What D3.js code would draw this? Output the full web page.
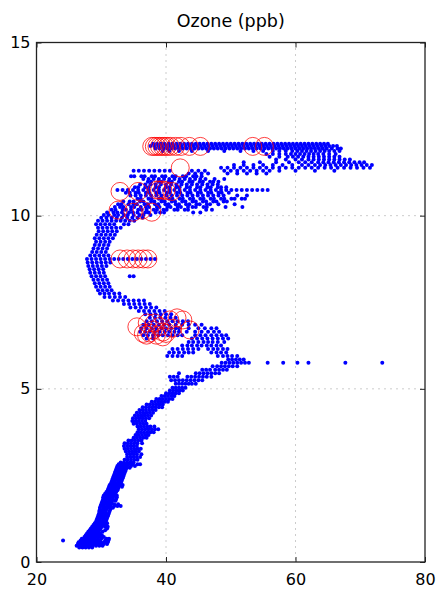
<!DOCTYPE html>
<html lang="en">
<head>
    <meta charset="UTF-8">
    <title>Ozone (ppb)</title>
    <style>
        body {
            margin: 0;
            background-color: #fff;
        }

        #chart {
            display: block;
        }

        .axis path {
            display: none;
        }

        .axis line {
            stroke: #222;
        }

        .axis text {
            fill: #000;
            font-family: "DejaVu Sans", sans-serif;
            font-size: 16px;
        }

        .grid line {
            stroke: #999;
            stroke-dasharray: 1, 5;
        }
    </style>
</head>
<body>
    <svg id="chart" width="438" height="590"></svg>

    <script src="https://cdnjs.cloudflare.com/ajax/libs/d3/7.8.5/d3.min.js"></script>
    <script>
        const chartTitle = 'Ozone (ppb)';
        const xTicks = [20, 40, 60, 80];
        const yTicks = [0, 5, 10, 15];

        // each row: [altitude, ozone, ozone, ...]
        const profileLower = [
            [0.42, 26.6, 27.1, 27.6, 28.1, 28.6],
            [0.47, 26.2, 26.7, 27.2, 27.7, 28.2, 28.7, 29.2, 29.7, 30.2],
            [0.52, 26.4, 26.9, 27.4, 27.9, 28.4, 28.9, 29.4, 29.9, 30.4, 30.9],
            [0.57, 26.5, 27.0, 27.5, 28.0, 28.5, 29.0, 29.5, 30.0, 30.5, 31.0],
            [0.62, 24.1, 26.8, 27.3, 27.8, 28.3, 28.8, 29.3, 29.8, 30.6, 31.1],
            [0.67, 27.0, 27.5, 28.0, 28.5, 29.0, 29.5, 30.0, 30.8, 31.2],
            [0.72, 27.4, 27.9, 28.4, 28.9, 29.4, 29.9, 30.4],
            [0.77, 27.6, 28.1, 28.6, 29.1, 29.6, 30.1],
            [0.82, 27.8, 28.3, 28.8, 29.3, 29.8],
            [0.87, 28.0, 28.5, 29.0, 29.5, 30.2],
            [0.92, 28.2, 28.7, 29.2, 29.7, 30.6],
            [0.97, 28.4, 28.9, 29.4, 29.9, 30.9],
            [1.02, 28.6, 29.1, 29.6, 30.1, 30.6, 31.0],
            [1.07, 28.8, 29.3, 29.8, 30.3, 30.8],
            [1.12, 29.0, 29.5, 30.0, 30.5, 30.9],
            [1.17, 29.2, 29.7, 30.2, 30.7],
            [1.22, 29.3, 29.8, 30.3, 30.8],
            [1.27, 29.4, 29.9, 30.4, 30.9],
            [1.32, 29.5, 30.0, 30.5, 31.0],
            [1.37, 29.6, 30.1, 30.6, 31.1],
            [1.42, 29.7, 30.2, 30.7, 31.2],
            [1.47, 29.7, 30.2, 30.7, 31.3],
            [1.52, 29.8, 30.3, 30.8, 31.4],
            [1.57, 29.8, 30.3, 30.8, 31.3, 31.8],
            [1.62, 29.9, 30.4, 30.9, 31.4, 32.0, 32.5, 33.0],
            [1.67, 30.0, 30.5, 31.0, 31.5, 32.0, 32.6],
            [1.72, 30.1, 30.6, 31.1, 31.6],
            [1.77, 30.2, 30.7, 31.2, 31.7, 32.2],
            [1.82, 30.3, 30.8, 31.3, 31.8, 32.3],
            [1.87, 30.3, 30.8, 31.3, 31.8, 32.4],
            [1.92, 30.4, 30.9, 31.4, 31.9, 32.4],
            [1.97, 30.6, 31.1, 31.6, 32.1],
            [2.02, 30.8, 31.3, 31.8, 32.3],
            [2.07, 31.0, 31.5, 32.0, 32.5],
            [2.12, 31.1, 31.6, 32.1, 32.6],
            [2.17, 31.2, 31.7, 32.2, 32.7, 33.2],
            [2.22, 31.3, 31.8, 32.3, 32.8, 33.3],
            [2.27, 31.5, 32.0, 32.5, 33.0],
            [2.32, 31.6, 32.1, 32.6, 33.1],
            [2.37, 31.7, 32.2, 32.7, 33.2],
            [2.42, 31.8, 32.3, 32.8, 33.3],
            [2.47, 31.9, 32.4, 32.9, 33.4],
            [2.52, 32.0, 32.5, 33.0, 33.5],
            [2.57, 32.1, 32.6, 33.1, 33.6],
            [2.62, 32.2, 32.7, 33.2, 33.7],
            [2.67, 32.3, 32.8, 33.3, 33.8],
            [2.72, 32.4, 32.9, 33.4, 33.9, 34.4],
            [2.77, 32.5, 33.0, 33.5, 34.0, 34.6, 35.2],
            [2.82, 32.7, 33.2, 33.7, 34.2, 34.8, 35.6, 36.0],
            [2.87, 33.0, 33.5, 34.0, 34.5, 35.0]
        ];

        const profileMiddle = [
            [2.95, 33.6, 34.1, 34.6, 35.1, 35.6],
            [3.03, 34.0, 34.5, 35.0, 35.5, 36.0],
            [3.11, 34.0, 34.5, 35.0, 35.5, 36.2],
            [3.19, 33.8, 34.3, 34.8, 35.3, 35.8],
            [3.27, 33.6, 34.1, 34.6, 35.1, 35.6, 36.1],
            [3.35, 33.5, 34.0, 34.5, 35.0, 35.5],
            [3.43, 33.6, 34.1, 34.6, 35.1, 35.6, 36.3],
            [3.51, 34.2, 34.7, 35.2, 35.7, 36.2],
            [3.59, 35.0, 35.5, 36.0, 36.5, 37.0],
            [3.67, 35.3, 35.8, 36.3, 36.8, 37.3],
            [3.75, 35.6, 36.1, 36.6, 37.1, 37.6, 38.1],
            [3.83, 35.8, 36.3, 36.8, 37.3, 37.8, 38.3, 38.8],
            [3.91, 35.6, 36.1, 36.6, 37.1, 37.6, 38.2],
            [3.99, 35.0, 35.5, 36.0, 36.5, 37.0],
            [4.07, 34.8, 35.3, 35.8, 36.3, 36.8],
            [4.15, 34.9, 35.4, 35.9, 36.4, 36.9, 37.4],
            [4.23, 35.2, 35.7, 36.2, 36.7, 37.2, 37.7],
            [4.31, 35.5, 36.0, 36.5, 37.0, 37.5, 38.0],
            [4.39, 35.9, 36.4, 36.9, 37.4, 37.9, 38.4],
            [4.47, 36.4, 36.9, 37.4, 37.9, 38.4, 38.9, 39.4],
            [4.55, 37.0, 37.5, 38.0, 38.5, 39.0, 39.5],
            [4.63, 37.8, 38.3, 38.8, 39.3, 39.8, 40.3],
            [4.71, 38.5, 39.0, 39.5, 40.0, 40.5, 41.0],
            [4.79, 39.3, 39.8, 40.3, 40.8, 41.3],
            [4.87, 40.0, 40.5, 41.0, 41.5, 42.0],
            [4.95, 40.6, 41.1, 41.6, 42.1, 42.6],
            [5.03, 41.0, 41.5, 42.0, 42.5, 43.0]
        ];

        const profileBend = [
            [5.15, 41.5, 42.0, 42.5, 43.0, 43.5, 44.0, 44.6],
            [5.25, 40.8, 41.4, 42.0, 42.6, 43.2, 43.8, 44.4, 45.0, 45.6],
            [5.35, 40.6, 41.2, 41.8, 43.3, 43.9, 44.5, 45.1, 45.7, 46.3, 47.0],
            [5.45, 42.0, 44.6, 45.2, 45.8, 46.4, 47.0, 47.6, 48.2],
            [5.55, 45.6, 46.2, 46.8, 47.6, 48.2, 48.8, 49.4],
            [5.65, 47.2, 47.9, 48.5, 49.1, 49.7, 50.3, 51.0],
            [5.75, 48.6, 49.2, 49.8, 50.4, 51.0, 51.6, 52.2, 52.8, 55.7, 58.1, 60.3, 62.0, 67.7, 73.4],
            [5.85, 49.6, 50.2, 50.8, 51.4, 52.0],
            [5.95, 40.2, 41.0, 41.8, 42.5, 48.0, 48.8, 49.5, 50.2, 51.0],
            [6.05, 40.5, 41.2, 42.0, 42.8, 43.5, 44.2, 47.0, 47.8, 48.5, 49.3],
            [6.15, 41.0, 41.8, 42.6, 43.4, 44.2, 45.0, 46.5, 47.3, 48.0, 48.8, 49.5],
            [6.25, 42.5, 43.3, 44.0, 44.8, 45.5, 46.3, 47.0, 47.8, 48.5],
            [6.35, 43.5, 44.2, 45.0, 45.8, 46.5, 47.2, 48.0, 49.0],
            [6.45, 37.0, 38.0, 44.0, 44.8, 45.6, 46.4, 47.2, 48.0, 48.8, 49.6],
            [6.55, 36.5, 37.2, 38.0, 38.8, 39.5, 40.3, 41.0, 41.8, 42.5, 44.5, 45.3, 46.1, 47.0, 47.8, 48.6, 49.3],
            [6.65, 36.0, 36.8, 37.5, 38.3, 39.0, 39.8, 40.5, 41.3, 42.0, 43.2, 44.5, 45.5, 46.5, 47.4, 48.2],
            [6.75, 36.2, 37.0, 37.8, 38.5, 39.3, 40.0, 40.8, 41.5, 42.0, 43.5, 45.0, 46.0, 47.0, 47.8],
            [6.85, 36.5, 37.3, 38.1, 38.9, 39.7, 40.5, 41.5, 42.5, 43.5, 44.5, 45.5],
            [6.95, 37.0, 37.8, 38.6, 39.4, 40.2, 41.0, 41.8, 42.6, 43.4],
            [7.05, 37.5, 38.3, 39.1, 39.9, 40.7, 41.5],
            [7.15, 36.8, 37.6, 38.4, 39.2, 40.0, 40.8],
            [7.25, 35.8, 36.6, 37.4, 38.2, 39.0, 39.8],
            [7.35, 34.5, 35.3, 36.1, 36.9, 37.7, 38.5],
            [7.45, 33.5, 34.3, 35.1, 35.9, 36.7, 37.5]
        ];

        const profileUpper = [
            [7.55, 31.8, 32.6, 33.4, 34.2, 35.0, 35.8, 36.6],
            [7.65, 30.5, 31.3, 32.1, 32.9, 33.7],
            [7.75, 29.8, 30.5, 31.2, 32.0, 32.8],
            [7.85, 29.5, 30.2, 30.9, 31.6],
            [7.95, 29.2, 29.9, 30.6, 31.3],
            [8.05, 29.0, 29.7, 30.4, 31.1],
            [8.15, 28.8, 29.5, 30.2, 30.9],
            [8.25, 28.5, 29.2, 29.9, 30.6, 34.4, 35.0],
            [8.35, 28.3, 29.0, 29.7, 30.4],
            [8.45, 28.2, 28.9, 29.6, 30.3],
            [8.55, 28.0, 28.7, 29.4, 30.1, 30.8],
            [8.65, 27.9, 28.6, 29.3, 30.0, 30.7, 31.4],
            [8.75, 27.8, 28.5, 29.2, 29.9, 30.6, 31.3, 32.0, 32.7, 33.4, 34.1, 34.8, 35.5, 36.2, 36.9, 37.6, 38.3],
            [8.85, 28.3, 29.0, 29.7, 30.4, 31.1],
            [8.95, 28.6, 29.3, 30.0, 30.7],
            [9.05, 28.8, 29.5, 30.2, 30.9],
            [9.15, 29.0, 29.7, 30.4, 31.1],
            [9.25, 29.2, 29.9, 30.6, 31.3],
            [9.35, 29.0, 29.7, 30.4, 31.1, 31.8],
            [9.45, 29.3, 30.0, 30.7, 31.4, 32.1],
            [9.55, 29.6, 30.3, 31.0, 31.7, 32.4],
            [9.65, 29.5, 30.2, 30.9, 31.6, 32.3, 33.0],
            [9.75, 29.2, 29.9, 30.6, 31.3, 32.0, 33.5, 34.2],
            [9.85, 29.5, 30.2, 30.9, 31.6, 32.3, 33.0, 33.7, 34.4, 35.1],
            [9.94, 30.0, 30.8, 31.6, 32.4, 33.2, 34.0, 34.8, 35.6, 36.4]
        ];

        const plumeLayer = [
            [10.02, 30.4, 31.1, 32.0, 32.6, 33.5, 34.1, 35.0, 35.9, 36.5, 37.6],
            [10.09, 30.9, 31.9, 32.5, 33.2, 34.3, 34.9, 35.6, 36.8, 37.3, 38.4, 39.1, 39.7, 44.2, 45.3],
            [10.17, 31.6, 32.2, 33.3, 33.8, 34.6, 35.7, 36.2, 37.0, 38.1, 38.6, 39.6, 40.1, 41.3, 41.8, 42.9, 43.4, 46.2, 47.1],
            [10.25, 32.1, 32.9, 33.4, 34.6, 35.1, 36.1, 36.9, 37.4, 38.6, 39.0, 40.2, 40.7, 41.8, 42.3, 43.4, 44.1, 44.6, 45.8, 46.3, 49.2, 51.8],
            [10.33, 32.6, 33.1, 34.2, 35.0, 35.5, 36.7, 37.2, 38.3, 38.8, 39.9, 40.4, 41.5, 42.0, 43.1, 43.6, 44.7, 45.2, 46.3, 46.8, 48.1, 50.6],
            [10.41, 33.4, 34.4, 35.0, 36.0, 36.5, 37.7, 38.2, 39.3, 39.8, 40.9, 41.4, 42.5, 43.0, 44.1, 44.6, 45.7, 46.2, 47.3, 47.8, 48.9, 49.4],
            [10.49, 35.6, 36.1, 37.3, 37.8, 38.9, 39.4, 40.5, 41.0, 42.1, 42.6, 43.7, 44.2, 45.3, 45.8, 46.9, 47.4, 48.5, 49.0, 50.1, 50.6, 51.7, 52.2],
            [10.58, 34.5, 35.3, 36.1, 36.9, 37.7, 38.5, 39.3, 40.1, 40.9, 41.7, 42.5, 43.3, 44.1, 44.9, 45.7, 46.5, 47.3, 48.1, 48.9, 51.0, 52.5],
            [10.66, 33.8, 34.4, 35.3, 35.8, 36.9, 37.4, 38.5, 39.0, 40.1, 40.6, 41.7, 42.2, 43.3, 43.8, 44.9, 45.4, 46.5, 47.0, 48.1, 48.6, 49.7],
            [10.74, 32.5, 33.3, 34.1, 34.9, 35.7, 36.5, 37.3, 38.1, 38.9, 39.7, 40.5, 41.3, 42.1, 42.9, 43.7, 44.5, 45.3, 46.1, 46.9, 47.7, 48.5, 49.3, 50.1, 50.9, 51.7, 52.5, 53.3, 54.1, 54.9, 55.7],
            [10.82, 35.2, 35.7, 36.8, 37.3, 38.4, 38.9, 40.0, 40.5, 41.6, 42.1, 43.2, 43.7, 44.8, 45.3, 46.4, 46.9, 48.0, 48.5, 49.3],
            [10.90, 36.0, 36.8, 37.6, 38.4, 39.2, 40.0, 40.8, 41.6, 42.4, 43.2, 44.0, 44.8, 45.6, 46.4, 47.2, 48.0],
            [10.98, 37.2, 37.7, 38.8, 39.3, 40.4, 40.9, 42.0, 42.5, 43.6, 44.1, 45.2, 45.7, 46.8, 47.3, 48.1],
            [11.06, 36.5, 37.3, 38.1, 38.9, 39.7, 40.5, 41.3, 42.1, 42.9, 43.7, 44.5, 45.3, 46.1, 47.5, 49.0],
            [11.14, 34.6, 35.1, 36.2, 36.7, 37.8, 38.3, 39.4, 39.9, 41.0, 41.5, 42.6, 43.1, 44.2, 44.7, 45.5]
        ];

        const topLayer = [
            [11.22, 43.5, 44.5, 45.5, 46.5, 49.5, 51.0, 52.5, 54.0, 55.5],
            [11.30, 35.0, 35.8, 36.6, 37.4, 38.2, 39.0, 39.8, 40.6, 44.0, 45.0, 46.0, 49.0, 50.0, 51.0, 52.0, 53.0, 54.0, 55.0, 56.0, 57.5, 60.0, 63.0, 66.0],
            [11.38, 48.5, 49.5, 50.5, 51.5, 52.5, 53.5, 54.5, 55.5, 56.5, 57.5, 58.5, 59.5, 60.5, 61.5, 62.5, 63.5, 64.5, 65.5, 66.5, 67.5, 68.5, 69.5, 70.5, 71.5],
            [11.46, 50.5, 52.0, 53.5, 55.0, 56.5, 58.0, 59.5, 61.0, 62.0, 63.0, 63.8, 64.6, 65.4, 66.2, 67.0, 67.8, 68.6, 69.4, 70.2, 71.0, 71.8],
            [11.54, 52.0, 54.5, 57.0, 59.0, 60.5, 61.5, 62.5, 63.5, 64.3, 65.1, 65.9, 66.7, 67.5, 68.3, 69.1, 69.9, 70.6],
            [11.62, 57.0, 58.5, 60.0, 61.0, 62.0, 62.8, 63.6, 64.4, 65.2, 66.0, 66.8, 67.6, 68.4],
            [11.70, 56.0, 57.5, 58.8, 59.6, 60.4, 61.2, 62.0, 62.8, 63.6, 64.4, 65.2, 66.0, 66.8],
            [11.78, 55.5, 56.5, 57.5, 58.5, 59.3, 60.0, 60.7, 61.4, 62.1, 62.8, 63.5, 64.3, 65.2, 66.2],
            [11.87, 39.5, 40.5, 42.0, 44.0, 46.5, 49.0, 51.5, 53.5, 55.0, 56.5, 57.5, 58.5, 59.5, 60.3, 61.0, 61.7, 62.4, 63.1, 63.8, 64.5, 65.2, 66.0, 66.8],
            [11.94, 38.4, 39.0, 39.6, 40.2, 40.8, 41.4, 42.0, 42.6, 43.2, 43.8, 44.4, 45.0, 45.6, 46.2, 46.8, 47.4, 48.0, 48.6, 49.2, 49.8, 50.4, 51.0, 51.6, 52.2, 52.8, 53.4, 54.0, 54.6, 55.2, 55.8, 56.4, 57.0, 57.6, 58.2, 58.8, 59.4, 60.0, 60.6, 61.2, 61.8, 62.4, 63.0, 63.6, 64.2, 64.8, 65.6, 66.5, 67.0],
            [12.01, 37.6, 38.2, 38.8, 39.4, 40.0, 40.6, 41.2, 41.8, 42.4, 43.0, 43.6, 44.2, 44.8, 45.4, 46.0, 46.6, 47.2, 47.8, 48.4, 49.0, 49.6, 50.2, 50.8, 51.4, 52.0, 52.6, 53.2, 53.8, 54.4, 55.0, 55.6, 56.2, 56.8, 57.4, 58.0, 58.6, 59.2, 59.8, 60.4, 61.0, 61.6, 62.2, 62.8, 63.4, 64.0, 64.6, 65.2, 65.8, 66.4],
            [12.08, 38.0, 38.6, 39.2, 39.8, 40.4, 41.0, 41.6, 42.2, 42.8, 43.4, 44.0, 44.6, 45.2, 45.8, 46.4, 47.0, 47.6, 48.2, 48.8, 49.4, 50.0, 50.6, 51.2, 51.8, 52.4, 53.0, 53.6, 54.2, 54.8, 55.4, 56.0, 56.6, 57.2, 57.8, 58.4, 59.0, 59.6, 60.2, 60.8, 61.4, 62.0, 62.6, 63.2, 63.8, 64.4, 65.0]
        ];

        // red circles: ozone and altitude, paired by index
        const circleOzone = [
            37.8, 38.2, 38.6, 39.0, 39.4, 39.8, 40.2, 40.7, 41.5, 42.3, 43.6, 45.3, 53.4, 55.2,
            42.2,
            32.9, 35.7, 38.6, 39.0, 39.5, 40.0, 40.9,
            32.6, 34.9, 36.3, 37.8,
            32.9, 34.0, 34.9, 35.7, 36.5, 37.2,
            35.5, 37.1, 38.0, 39.5, 40.6, 41.7, 42.6, 43.7, 39.5, 37.5, 36.5, 38.5, 39.0, 40.0, 38.2, 37.0, 41.0
        ];
        const circleAlt = [
            12.0, 12.0, 12.0, 12.0, 12.0, 12.0, 12.0, 12.0, 12.0, 12.0, 12.0, 12.0, 12.0, 12.0,
            11.38,
            10.7, 10.7, 10.74, 10.74, 10.74, 10.72, 10.7,
            10.16, 10.1, 10.16, 10.1,
            8.75, 8.75, 8.75, 8.75, 8.75, 8.75,
            6.79, 6.9, 6.7, 6.64, 6.99, 7.05, 6.99, 6.7, 6.5, 6.61, 6.6, 6.55, 6.8, 6.6, 6.9, 6.55, 6.75
        ];

        const svg = d3.select('#chart');
        const plotLeft = 36.5, plotRight = 425, plotTop = 42.5, plotBottom = 562;

        const x = d3.scaleLinear().domain([20, 80]).range([plotLeft, plotRight]);
        const y = d3.scaleLinear().domain([0, 15]).range([plotBottom, plotTop]);

        // dotted grid
        const grid = svg.append('g').attr('class', 'grid');
        grid.selectAll('line.gx')
            .data(xTicks.slice(1, -1))
            .enter().append('line')
            .attr('x1', d => x(d)).attr('x2', d => x(d))
            .attr('y1', plotTop).attr('y2', plotBottom);
        grid.selectAll('line.gy')
            .data(yTicks.slice(1, -1))
            .enter().append('line')
            .attr('x1', plotLeft).attr('x2', plotRight)
            .attr('y1', d => y(d)).attr('y2', d => y(d));

        // flatten the rows into points
        let points = [];
        [profileLower, profileMiddle, profileBend, profileUpper, plumeLayer, topLayer].forEach(rows => {
            rows.forEach(row => {
                row.slice(1).forEach(oz => points.push({ ozone: oz, alt: row[0] }));
            });
        });

        svg.append('g')
            .selectAll('circle')
            .data(points)
            .enter().append('circle')
            .attr('cx', d => x(d.ozone))
            .attr('cy', d => y(d.alt))
            .attr('r', 2)
            .attr('fill', '#0000ff');

        svg.append('g')
            .selectAll('circle')
            .data(circleOzone)
            .enter().append('circle')
            .attr('cx', d => x(d))
            .attr('cy', (d, i) => y(circleAlt[i]))
            .attr('r', 9)
            .attr('fill', 'none')
            .attr('stroke', '#ff0000')
            .attr('stroke-opacity', 0.75)
            .attr('stroke-width', 1);

        // axes, ticks pointing inward
        svg.append('g')
            .attr('class', 'axis')
            .attr('transform', `translate(0,${plotBottom})`)
            .call(d3.axisBottom(x).tickValues(xTicks).tickSizeInner(-5).tickSizeOuter(0).tickPadding(12));
        svg.append('g')
            .attr('class', 'axis')
            .attr('transform', `translate(${plotLeft},0)`)
            .call(d3.axisLeft(y).tickValues(yTicks).tickSizeInner(-5).tickSizeOuter(0).tickPadding(6));
        svg.append('g')
            .attr('class', 'axis')
            .attr('transform', `translate(0,${plotTop})`)
            .call(d3.axisTop(x).tickValues(xTicks).tickSizeInner(-5).tickSizeOuter(0).tickFormat(''));
        svg.append('g')
            .attr('class', 'axis')
            .attr('transform', `translate(${plotRight},0)`)
            .call(d3.axisRight(y).tickValues(yTicks).tickSizeInner(-5).tickSizeOuter(0).tickFormat(''));

        svg.append('rect')
            .attr('x', plotLeft).attr('y', plotTop)
            .attr('width', plotRight - plotLeft).attr('height', plotBottom - plotTop)
            .attr('fill', 'none')
            .attr('stroke', '#222')
            .attr('stroke-width', 1.3);

        svg.append('text')
            .attr('x', (plotLeft + plotRight) / 2)
            .attr('y', 27)
            .attr('text-anchor', 'middle')
            .style('font-family', '"DejaVu Sans", sans-serif')
            .style('font-size', '17.5px')
            .text(chartTitle);
    </script>
</body>
</html>
